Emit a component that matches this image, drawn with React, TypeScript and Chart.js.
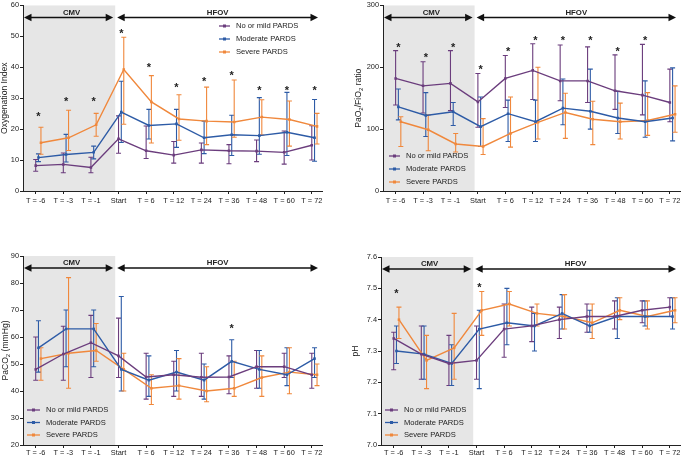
import React, { useEffect, useRef } from 'react';
import { Chart, registerables } from 'chart.js';
Chart.register(...registerables);

const FONT = "'Liberation Sans', Arial, sans-serif";
const INK = '#222';

const timeLabels = ['T = -6', 'T = -3', 'T = -1', 'Start', 'T = 6', 'T = 12', 'T = 24', 'T = 36', 'T = 48', 'T = 60', 'T = 72'];
const seriesNames = ['No or mild PARDS', 'Moderate PARDS', 'Severe PARDS'];
const seriesColors = ['#6b3d7d', '#2d5ba6', '#f0883c'];
const seriesOffsets = [0, 0.1, 0.19];

// Oxygenation index
const oiMild = [8.2, 8.6, 7.6, 16.9, 13.0, 11.6, 13.3, 13.0, 12.9, 12.5, 14.8];
const oiMildHi = [10.2, 12.3, 10.9, 24.3, 21.0, 16.0, 15.5, 15.0, 16.5, 19.4, 21.1];
const oiMildLo = [6.4, 5.9, 5.9, 12.2, 10.5, 9.0, 9.0, 8.8, 9.5, 8.7, 10.0];
const oiMod = [10.8, 11.8, 12.5, 25.5, 21.2, 21.7, 17.2, 18.2, 17.9, 19.0, 17.2];
const oiModHi = [12.0, 18.3, 14.5, 35.5, 26.4, 26.4, 22.6, 24.5, 30.2, 31.9, 29.6];
const oiModLo = [9.5, 9.4, 10.4, 15.7, 16.8, 14.1, 12.1, 11.5, 11.9, 11.5, 9.6];
const oiSev = [15.6, 17.2, 21.4, 39.3, 28.8, 23.3, 22.6, 22.3, 23.9, 23.1, 20.9];
const oiSevHi = [20.6, 26.1, 25.1, 49.7, 37.3, 31.1, 33.6, 35.9, 29.5, 29.1, 25.1];
const oiSevLo = [11.9, 13.1, 17.7, 21.6, 15.5, 16.4, 15.0, 17.4, 18.1, 14.5, 15.2];
const oiStars = [24.7, 29.6, 29.6, 51.5, 40.7, 34.1, 36.2, 38.1, 33.1, 33.1, 33.1];

// PaO2/FiO2 ratio
const pfMild = [182, 170, 174, 144, 182, 195, 178, 178, 162, 155, 143];
const pfMildHi = [227, 209, 227, 190, 219, 238, 236, 233, 220, 237, 197];
const pfMildLo = [139, 126, 130, 103, 135, 148, 146, 143, 132, 123, 112];
const pfMod = [136, 122, 128, 104, 125, 112, 134, 129, 118, 112, 118];
const pfModHi = [165, 159, 143, 152, 147, 147, 181, 197, 161, 178, 199];
const pfModLo = [115, 88, 106, 72, 80, 80, 107, 100, 93, 87, 81];
const pfSev = [112, 99, 76, 72, 93, 111, 127, 116, 112, 114, 124];
const pfSevHi = [120, 123, 93, 117, 152, 200, 158, 145, 142, 159, 170];
const pfSevLo = [72, 65, 63, 59, 71, 84, 85, 75, 84, 90, 95];
const pfStars = [236, 219, 236, 200, 228, 247, 247, 247, 228, 247, null];

// PaCO2
const co2Mild = [48, 53.7, 57.9, 53, 45.2, 46, 45.1, 45.2, 49, 49, 46];
const co2MildHi = [60, 64, 68, 67, 54, 51, 54, 53, 55, 54, 54];
const co2MildLo = [44, 44, 45, 45, 37, 38, 38, 39, 41, 45, 41];
const co2Mod = [56, 63, 63, 48, 44, 47, 44, 51, 48, 46, 52];
const co2ModHi = [66, 70, 70, 75, 53, 55, 50, 59, 55, 56, 56];
const co2ModLo = [47, 49, 49, 40, 38, 40, 37, 45, 41, 42, 45];
const co2Sev = [52, 54, 55, 48, 41, 42, 40, 41, 45, 47, 46];
const co2SevHi = [56, 82, 65, 54, 46, 52, 49, 51, 53, 56, 50];
const co2SevLo = [44, 41, 51, 40, 35, 37, 36, 38, 38, 39, 42];
const co2Stars = [null, null, null, null, null, null, null, 64, null, null, null];

// pH
const phMild = [7.34, 7.29, 7.26, 7.27, 7.37, 7.38, 7.40, 7.41, 7.41, 7.43, 7.44];
const phMildHi = [7.36, 7.38, 7.35, 7.38, 7.45, 7.44, 7.44, 7.45, 7.46, 7.46, 7.47];
const phMildLo = [7.24, 7.21, 7.19, 7.21, 7.28, 7.33, 7.34, 7.36, 7.37, 7.39, 7.41];
const phMod = [7.30, 7.29, 7.26, 7.37, 7.39, 7.38, 7.42, 7.38, 7.41, 7.41, 7.41];
const phModHi = [7.38, 7.38, 7.32, 7.43, 7.50, 7.42, 7.48, 7.43, 7.47, 7.46, 7.47];
const phModLo = [7.26, 7.21, 7.19, 7.18, 7.32, 7.30, 7.37, 7.36, 7.34, 7.38, 7.37];
const phSev = [7.40, 7.27, 7.31, 7.43, 7.45, 7.42, 7.41, 7.39, 7.43, 7.41, 7.43];
const phSevHi = [7.44, 7.35, 7.42, 7.49, 7.49, 7.45, 7.48, 7.45, 7.47, 7.46, 7.47];
const phSevLo = [7.34, 7.18, 7.21, 7.35, 7.38, 7.38, 7.37, 7.34, 7.40, 7.37, 7.39];
const phStars = [7.49, null, null, 7.51, null, null, null, null, null, null, null];

const phaseLabels = ['CMV', 'HFOV'];
const cmvEnd = 2.88;

type Seg = { t: string; sub?: boolean };

const panels = [
  {
    key: 'oi', left: 0, top: 0, w: 342, h: 228, padTop: 3, padRight: 20, yW: 23, xH: 37, xPad: 3,
    yMin: 0, yMax: 60, step: 10, dec: 0, titleX: 5,
    title: [{ t: 'Oxygenation Index' }] as Seg[],
    series: [[oiMild, oiMildLo, oiMildHi], [oiMod, oiModLo, oiModHi], [oiSev, oiSevLo, oiSevHi]],
    stars: oiStars, legend: { x: 219, y: 26, len: 11, row: 13 },
  },
  {
    key: 'pf', left: 342, top: 0, w: 343, h: 228, padTop: 3, padRight: 5, yW: 41, xH: 37, xPad: 3,
    yMin: 0, yMax: 300, step: 100, dec: 0, titleX: 16.5,
    title: [{ t: 'PaO' }, { t: '2', sub: true }, { t: '/FiO' }, { t: '2', sub: true }, { t: ' ratio' }] as Seg[],
    series: [[pfMild, pfMildLo, pfMildHi], [pfMod, pfModLo, pfModHi], [pfSev, pfSevLo, pfSevHi]],
    stars: pfStars, legend: { x: 47, y: 156, len: 11, row: 13 },
  },
  {
    key: 'co2', left: 0, top: 228, w: 342, h: 227, padTop: 28, padRight: 20, yW: 23, xH: 10, xPad: 1,
    yMin: 20, yMax: 90, step: 10, dec: 0, titleX: 5.5,
    title: [{ t: 'PaCO' }, { t: '2', sub: true }, { t: ' (mmHg)' }] as Seg[],
    series: [[co2Mild, co2MildLo, co2MildHi], [co2Mod, co2ModLo, co2ModHi], [co2Sev, co2SevLo, co2SevHi]],
    stars: co2Stars, legend: { x: 27, y: 182, len: 13, row: 12.5 },
  },
  {
    key: 'ph', left: 342, top: 228, w: 343, h: 227, padTop: 29, padRight: 5, yW: 39, xH: 10, xPad: 1,
    yMin: 7.0, yMax: 7.6, step: 0.1, dec: 1, titleX: 14,
    title: [{ t: 'pH' }] as Seg[],
    series: [[phMild, phMildLo, phMildHi], [phMod, phModLo, phModHi], [phSev, phSevLo, phSevHi]],
    stars: phStars, legend: { x: 43, y: 182, len: 13, row: 12.5 },
  },
];

function arrowHead(ctx: CanvasRenderingContext2D, tipX: number, y: number, dir: number) {
  ctx.beginPath();
  ctx.moveTo(tipX, y);
  ctx.lineTo(tipX - dir * 7.5, y - 3.8);
  ctx.lineTo(tipX - dir * 7.5, y + 3.8);
  ctx.closePath();
  ctx.fill();
}

const decorPlugin = {
  id: 'decor',
  beforeDraw(chart: any) {
    const { ctx, chartArea: ca, scales } = chart;
    const gx = scales.x.getPixelForValue(cmvEnd);
    ctx.save();
    ctx.fillStyle = '#e6e6e6';
    ctx.fillRect(ca.left, ca.top, gx - ca.left, ca.bottom - ca.top);
    ctx.restore();
  },
  beforeDatasetsDraw(chart: any, _a: any, opts: any) {
    const { ctx, scales } = chart;
    const { x, y } = scales;
    ctx.save();
    ctx.lineWidth = 1.1;
    opts.series.forEach((s: number[][], i: number) => {
      ctx.strokeStyle = seriesColors[i];
      const lo = s[1], hi = s[2];
      for (let j = 0; j < lo.length; j++) {
        const px = x.getPixelForValue(j + seriesOffsets[i]);
        const pl = y.getPixelForValue(lo[j]);
        const ph = y.getPixelForValue(hi[j]);
        ctx.beginPath();
        ctx.moveTo(px, pl); ctx.lineTo(px, ph);
        ctx.moveTo(px - 2.5, pl); ctx.lineTo(px + 2.5, pl);
        ctx.moveTo(px - 2.5, ph); ctx.lineTo(px + 2.5, ph);
        ctx.stroke();
      }
    });
    ctx.restore();
  },
  afterDraw(chart: any, _a: any, opts: any) {
    const { ctx, chartArea: ca, scales } = chart;
    const { x, y } = scales;
    const gx = x.getPixelForValue(cmvEnd);
    ctx.save();
    // phase arrows
    const ay = ca.top + 12;
    ctx.strokeStyle = '#111';
    ctx.fillStyle = '#111';
    ctx.lineWidth = 1.6;
    const segs = [[ca.left + 1, gx - 2], [gx + 2, ca.right - 4]];
    segs.forEach(([a, b], k) => {
      ctx.beginPath();
      ctx.moveTo(a + 4, ay); ctx.lineTo(b - 4, ay);
      ctx.stroke();
      arrowHead(ctx, a, ay, -1);
      arrowHead(ctx, b, ay, 1);
      ctx.font = `bold 7.8px ${FONT}`;
      ctx.textAlign = 'center';
      ctx.textBaseline = 'middle';
      ctx.fillStyle = INK;
      ctx.fillText(phaseLabels[k], (a + b) / 2 + (k === 0 ? 3 : 0), ca.top + 7);
      ctx.fillStyle = '#111';
    });
    // stars
    ctx.fillStyle = INK;
    ctx.font = `bold 11px ${FONT}`;
    ctx.textAlign = 'center';
    ctx.textBaseline = 'alphabetic';
    const m = ctx.measureText('*');
    const midOff = (m.actualBoundingBoxAscent - m.actualBoundingBoxDescent) / 2;
    opts.stars.forEach((v: number | null, j: number) => {
      if (v === null) return;
      const px = x.getPixelForValue(j + seriesOffsets[1]);
      const py = y.getPixelForValue(v);
      ctx.fillText('*', px, py + midOff);
    });
    // legend
    const lg = opts.legend;
    seriesNames.forEach((name, i) => {
      const ly = lg.y + i * lg.row;
      ctx.strokeStyle = seriesColors[i];
      ctx.fillStyle = seriesColors[i];
      ctx.lineWidth = 1.3;
      ctx.beginPath();
      ctx.moveTo(lg.x, ly); ctx.lineTo(lg.x + lg.len, ly);
      ctx.stroke();
      ctx.fillRect(lg.x + lg.len / 2 - 1.5, ly - 1.5, 3, 3);
      ctx.fillStyle = INK;
      ctx.font = `7.6px ${FONT}`;
      ctx.textAlign = 'left';
      ctx.textBaseline = 'middle';
      ctx.fillText(name, lg.x + lg.len + 6, ly);
    });
    // y title with subscripts
    const size = 8.6;
    ctx.translate(opts.titleX, (ca.top + ca.bottom) / 2);
    ctx.rotate(-Math.PI / 2);
    ctx.textAlign = 'left';
    ctx.textBaseline = 'middle';
    ctx.fillStyle = INK;
    const widths = opts.title.map((s: Seg) => {
      ctx.font = `${s.sub ? size * 0.7 : size}px ${FONT}`;
      return ctx.measureText(s.t).width;
    });
    const total = widths.reduce((a: number, b: number) => a + b, 0);
    let cx = -total / 2;
    opts.title.forEach((s: Seg, i: number) => {
      ctx.font = `${s.sub ? size * 0.7 : size}px ${FONT}`;
      ctx.fillText(s.t, cx, s.sub ? size * 0.3 : 0);
      cx += widths[i];
    });
    ctx.restore();
  },
};

function Panel({ p }: { p: typeof panels[number] }) {
  const ref = useRef<HTMLCanvasElement>(null);
  useEffect(() => {
    const datasets = p.series.map((s, i) => ({
      label: seriesNames[i],
      data: s[0].map((v, j) => ({ x: j + seriesOffsets[i], y: v })),
      borderColor: seriesColors[i],
      backgroundColor: seriesColors[i],
      borderWidth: 1.4,
      pointStyle: 'rect',
      pointRadius: 1.8,
      pointBorderWidth: 0,
      pointBackgroundColor: seriesColors[i],
      tension: 0,
    }));
    const tickFont = { family: FONT, size: 7.4 };
    const chart = new Chart(ref.current!, {
      type: 'line',
      data: { datasets },
      plugins: [decorPlugin],
      options: {
        animation: false,
        responsive: false,
        devicePixelRatio: 1,
        layout: { padding: { top: p.padTop, right: p.padRight, left: 0, bottom: 0 } },
        scales: {
          x: {
            type: 'linear',
            min: -0.46,
            max: 10.37,
            afterBuildTicks: (s: any) => { s.ticks = timeLabels.map((_, i) => ({ value: i })); },
            afterFit: (s: any) => { s.height = p.xH; },
            ticks: {
              callback: (v: any) => timeLabels[Math.round(v)] ?? '',
              autoSkip: false, maxRotation: 0, minRotation: 0,
              font: tickFont, color: INK, padding: p.xPad,
            },
            grid: { drawOnChartArea: false, drawTicks: true, tickLength: 3, color: INK },
            border: { display: true, color: INK, width: 1 },
          },
          y: {
            min: p.yMin,
            max: p.yMax,
            afterFit: (s: any) => { s.width = p.yW; },
            ticks: {
              stepSize: p.step,
              callback: (v: any) => Number(v).toFixed(p.dec),
              font: tickFont, color: INK, padding: 1,
            },
            grid: { drawOnChartArea: false, drawTicks: true, tickLength: 3, color: INK },
            border: { display: true, color: INK, width: 1 },
          },
        },
        plugins: {
          legend: { display: false },
          tooltip: { enabled: false },
          decor: { series: p.series, stars: p.stars, legend: p.legend, title: p.title, titleX: p.titleX },
        } as any,
      },
    } as any);
    return () => chart.destroy();
  }, [p]);
  return (
    <div style={{ position: 'absolute', left: p.left, top: p.top, width: p.w, height: p.h }}>
      <canvas ref={ref} width={p.w} height={p.h} style={{ display: 'block' }} />
    </div>
  );
}

export default function App() {
  return (
    <div style={{ position: 'fixed', left: 0, top: 0, width: 685, height: 455, background: '#fff', overflow: 'hidden' }}>
      {panels.map((p) => <Panel key={p.key} p={p} />)}
    </div>
  );
}
